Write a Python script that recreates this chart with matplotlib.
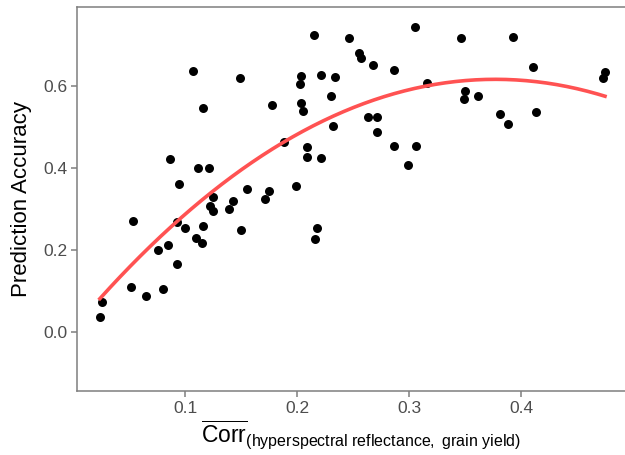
import numpy as np
import matplotlib
matplotlib.use("Agg")
import matplotlib.pyplot as plt

plt.rcParams['font.family'] = ['Liberation Sans', 'DejaVu Sans']
plt.rcParams['mathtext.fontset'] = 'custom'
plt.rcParams['mathtext.rm'] = 'Liberation Sans'
plt.rcParams['mathtext.it'] = 'Liberation Sans:italic'

# mean correlation (hyperspectral reflectance vs grain yield) per model
corr = [0.215, 0.246, 0.107, 0.149, 0.204, 0.203, 0.221, 0.234, 0.230, 0.116,
        0.178, 0.204, 0.205, 0.232, 0.188, 0.209, 0.209, 0.221, 0.087, 0.112,
        0.121, 0.095, 0.125, 0.143, 0.155, 0.175, 0.199, 0.171, 0.139, 0.122,
        0.125, 0.054, 0.093, 0.100, 0.116, 0.150, 0.218, 0.216, 0.110, 0.115,
        0.085, 0.076, 0.093, 0.052, 0.080, 0.065, 0.026, 0.024,
        0.305, 0.346, 0.393, 0.255, 0.257, 0.268, 0.287, 0.411, 0.475, 0.473,
        0.316, 0.350, 0.349, 0.362, 0.263, 0.271, 0.271, 0.381, 0.388, 0.413,
        0.287, 0.306, 0.299]
# prediction accuracy
acc = [0.724, 0.717, 0.637, 0.620, 0.624, 0.605, 0.627, 0.622, 0.576, 0.546,
       0.554, 0.559, 0.539, 0.502, 0.463, 0.451, 0.427, 0.424, 0.422, 0.400,
       0.400, 0.361, 0.329, 0.320, 0.349, 0.344, 0.356, 0.324, 0.300, 0.307,
       0.295, 0.271, 0.268, 0.254, 0.259, 0.249, 0.254, 0.227, 0.229, 0.217,
       0.212, 0.200, 0.166, 0.110, 0.105, 0.088, 0.073, 0.037,
       0.744, 0.717, 0.720, 0.680, 0.668, 0.651, 0.639, 0.646, 0.634, 0.620,
       0.607, 0.588, 0.568, 0.576, 0.524, 0.524, 0.488, 0.532, 0.507, 0.537,
       0.454, 0.454, 0.407]

x_ticks = [0.1, 0.2, 0.3, 0.4]
y_ticks = [0.0, 0.2, 0.4, 0.6]

corr = np.array(corr)
acc = np.array(acc)

# quadratic smoother like geom_smooth(method="lm", formula=y~poly(x,2))
coef = np.polyfit(corr, acc, 2)
xs = np.linspace(corr.min(), corr.max(), 200)
ys = np.polyval(coef, xs)

fig = plt.figure(figsize=(6.25, 4.55), dpi=100)
ax = fig.add_axes([77/625, 64/455, (645-77)/625, 384/455])

ax.scatter(corr, acc, s=42, color='black', zorder=2, linewidths=0)
ax.plot(xs, ys, color='#FF5252', lw=2.6, zorder=3)

ax.set_xlim(0.1 + (77-185)/1120, 0.1 + (645-185)/1120)
ax.set_ylim((332-391)/410, (332-7)/410)
ax.set_xticks(x_ticks)
ax.set_yticks(y_ticks)
ax.set_xticklabels(['%.1f' % v for v in x_ticks])
ax.set_yticklabels(['%.1f' % v for v in y_ticks])

for s in ax.spines.values():
    s.set_color('#7f7f7f')
    s.set_linewidth(1.1)
ax.tick_params(colors='#7f7f7f', length=4, width=1.1, labelsize=12.5,
               labelcolor='#4d4d4d', pad=3)

ax.set_ylabel('Prediction Accuracy', fontsize=16, color='black', labelpad=8)
ax.set_xlabel(r'$\overline{\mathrm{Corr}}_{\mathrm{(hyperspectral\ reflectance,\ grain\ yield)}}$',
              fontsize=16.5, color='black', labelpad=2)

fig.savefig('out.png', dpi=100)
